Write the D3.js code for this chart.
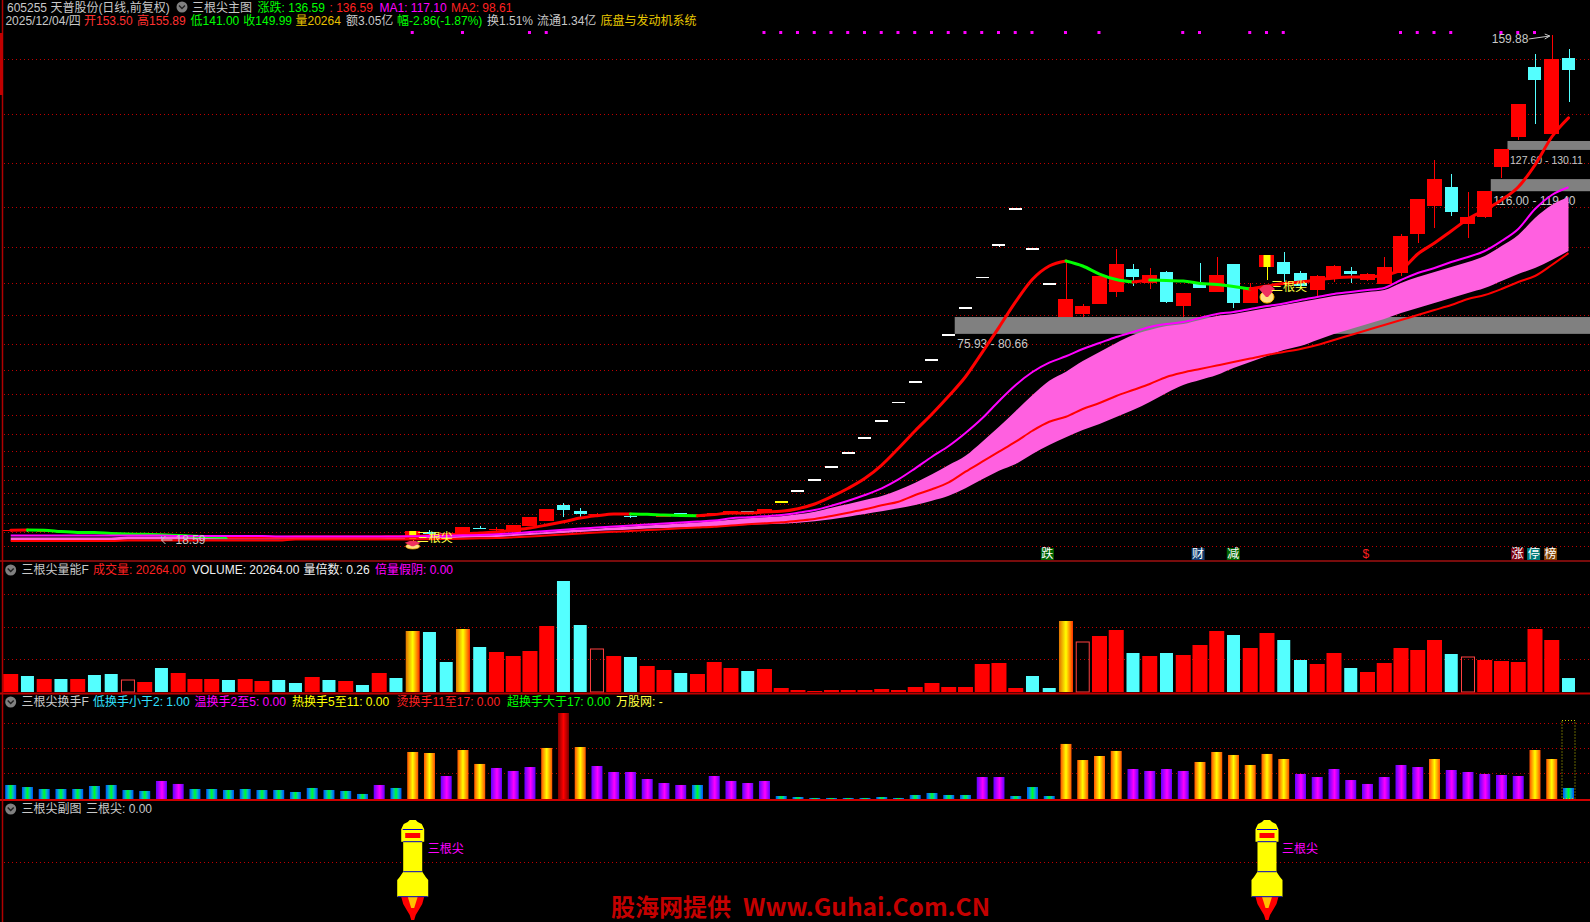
<!DOCTYPE html>
<html><head><meta charset="utf-8"><title>三根尖主图</title>
<script src="https://cdn.jsdelivr.net/npm/d3@7"></script>
<style>html,body{margin:0;background:#000;overflow:hidden}svg{display:block}text{font-family:"Liberation Sans","Noto Sans CJK SC",sans-serif;font-size:12px}</style>
</head><body><svg id="c" width="1590" height="922"></svg>
<script>
// ---------- data (prices in yuan, volume in hands, turnover in %) ----------
const opens=[20.6,20.9,20.4,20.5,20.1,20.3,20.1,19.7,19.6,19.5,19.0,19.0,19.0,19.2,19.0,18.95,19.1,19.05,18.9,19.05,18.9,19.0,18.8,19.05,
18.31,20.19,19.99,19.43,21.53,21.03,20.36,21.96,23.36,27.85,26.17,25.05,25.33,24.77,25.05,24.62,25.61,24.62,25.05,25.47,26.17,25.97,
28.89,31.98,35.07,38.72,42.66,46.87,51.65,56.71,62.6,68.78,75.8,83.39,91.82,101.08,111.2,99.96,90.13,
80.66,81.51,84.31,87.69,94.15,90.22,93.3,83.75,90.22,87.69,95.55,84.6,94.71,96.11,93.02,88.25,91.62,93.58,91.06,89.93,93.03,103.98,111.84,117.18,106.79,108.75,122.8,131.23,150.89,132.07,153.5];
const closes=[20.9,20.6,20.7,20.2,20.4,20.0,19.8,19.8,19.8,19.2,19.3,19.2,19.2,19.0,19.2,19.15,18.95,18.9,19.1,18.9,19.05,18.85,19.05,18.85,
20.55,19.99,19.79,21.67,21.4,21.2,22.24,24.49,26.73,26.45,25.33,25.33,25.61,24.49,25.33,24.91,25.33,24.91,25.61,26.17,25.89,26.65,
28.89,31.98,35.07,38.72,42.66,46.87,51.65,56.71,62.6,68.78,75.8,83.39,91.82,101.08,111.2,99.96,90.13,
85.72,83.75,92.18,95.55,91.9,92.46,84.88,87.41,88.81,92.46,84.6,89.09,98.08,92.74,89.37,92.18,94.99,92.74,92.74,94.71,103.42,113.81,119.43,110.16,108.75,116.06,127.85,140.5,147.24,153.14,149.99];
const highs=[21.1,21.2,20.8,20.7,20.5,20.4,20.2,19.9,19.9,19.71,19.4,19.3,19.3,19.3,19.3,19.2,19.2,19.1,19.2,19.1,19.1,19.1,19.1,19.1,
20.55,20.83,20.1,21.67,21.96,21.67,22.24,24.49,26.73,28.42,27.01,25.69,25.7,24.96,25.4,24.95,25.7,25,25.65,26.2,26.2,26.7,
28.89,31.98,35.07,38.72,42.66,46.87,51.65,56.71,62.6,68.78,75.8,83.39,91.82,101.08,111.2,99.96,90.13,
96.4,84.31,92.18,99.77,95.55,94.43,93.58,87.41,95.83,97.52,95.55,90.22,98.08,98.92,93.58,92.46,95.2,94.71,92.9,97.52,103.98,113.81,124.77,120.83,115.78,116.06,127.85,140.5,154.54,159.88,155.89];
const lows=[20.4,20.4,20.3,20.1,20.0,19.9,19.7,19.6,19.5,18.59,18.9,18.9,18.9,18.9,18.9,18.9,18.9,18.8,18.85,18.8,18.8,18.8,18.75,18.8,
17.18,19.23,19.71,19.43,21.03,20.63,20.36,21.96,23.36,24.57,24.2,24.77,25.3,24.2,25.0,24.6,25.3,24.6,25,25.4,25.8,25.9,
28.89,31.98,35.07,38.72,42.66,46.87,51.65,56.71,62.6,68.78,75.8,83.39,91.82,100.24,111.2,99.96,90.13,
80.66,80.66,84.31,86.28,89.37,88.53,84.6,80.66,88.81,87.69,83.19,84.6,91.06,89.65,89,86.57,90.5,90.22,90.9,89.93,92.18,101.45,105.66,109.03,102.86,108.47,119.71,130.38,134.88,132.07,141];
const shortLine=[20.8,20.85,20.8,20.4,20.15,20.1,19.85,19.7,19.65,19.5,19.3,19.1,18.95,18.8,18.81,18.82,18.83,18.84,18.85,18.86,18.87,18.88,18.9,18.92,
18.95,19.29,19.52,19.71,19.99,20.27,20.83,21.4,22.24,23.16,24.2,24.85,25.33,25.34,25.25,25.05,24.91,24.82,25.19,25.61,25.62,25.89,26.09,26.82,28.14,30.19,32.55,35.36,39.09,43.78,48.72,53.41,58.47,63.89,70.75,77.77,84.96,91.26,94.99,96.4,
94.99,92.74,91.2,90.5,91.06,90.92,90.78,90.07,89.79,89.23,88.53,89.37,90.07,90.5,91.06,91.62,91.9,91.91,92.46,93.87,98.36,101.45,104.82,108.19,110.72,113.53,117.18,123.36,131.23,136.59];
const ma1=[19.29,19.29,19.29,19.29,19.29,19.29,19.29,19.29,19.29,19.29,19.15,19.15,19.15,19.15,19.15,19.15,19.01,19.01,19.01,19.01,19.01,19.01,19.01,19.01,
19.06,19.15,19.23,19.35,19.43,19.63,19.91,20.27,20.55,20.89,21.25,21.53,21.82,22.1,22.38,22.66,22.94,23.22,23.5,24.12,24.4,24.68,25.05,25.69,26.45,27.66,29.06,30.66,32.55,35.07,38.16,41.42,44.43,48.08,52.21,57.07,61.57,65.21,67.83,69.63,
71.68,73.36,75.05,76.45,77.86,78.7,79.26,80.38,81.51,82.07,82.91,83.75,84.46,85.44,86.28,87.12,87.69,88.25,88.81,91.06,93.03,94.43,96.11,97.52,99.2,102.01,105.38,111,114.93,117.1];
const ma2=[17.74,17.74,17.74,17.74,17.74,17.74,17.74,17.89,17.89,17.89,17.89,17.89,17.89,17.89,17.89,17.89,17.89,18.17,18.17,18.17,18.17,18.17,18.17,18.17,18.17,
18.25,18.31,18.39,18.5,18.59,18.78,19.01,19.29,19.57,19.85,20.13,20.36,20.55,20.83,21.03,21.31,21.53,21.76,22.1,22.44,22.72,23,23.45,23.92,24.77,25.69,26.65,27.77,28.78,30.66,32.27,34.23,37.21,40.02,42.83,45.64,48.72,51.25,52.66,
54.82,56.51,58.47,60.16,61.84,63.81,65.07,66.06,67.04,68.02,69.01,69.99,70.83,71.68,72.8,74.21,75.61,77.01,78.42,79.82,81.23,82.63,84.03,85.72,86.84,88.53,90.5,92.18,95.27,98.61];
const bandTop=[18.73,18.73,18.73,18.73,18.73,18.73,18.73,19.01,19.01,19.01,19.01,19.01,19.01,19.01,19.01,19.01,19.01,18.87,18.87,18.87,18.87,18.87,18.87,18.87,18.87,
18.93,19.01,19.15,19.29,19.43,19.71,19.99,20.27,20.69,20.97,21.2,21.53,21.82,22.1,22.38,22.66,22.94,23.36,23.72,24.12,24.4,24.68,25.24,25.97,27.1,28.14,29.26,30.38,32.07,34.12,36.48,39.09,41.7,45.64,49.85,54.26,58.76,62.77,65.3,
68.3,70.83,73.36,75.61,77.01,78.14,78.7,79.82,80.95,81.51,82.35,83.19,84.03,84.88,85.72,86.56,87.12,87.69,88.25,90.22,91.9,93.3,94.71,96.11,97.8,100.61,103.7,108.47,112.12,114.37];
const bandBottom=[17.89,17.89,17.89,17.89,17.89,17.89,17.89,18.17,18.17,18.17,18.17,18.17,18.17,18.17,18.17,18.17,18.17,18.31,18.31,18.31,18.31,18.31,18.31,18.31,18.31,
18.45,18.59,18.67,18.78,18.87,19.15,19.43,19.71,19.99,20.27,20.55,20.75,20.97,21.25,21.39,21.53,21.67,21.82,22.04,22.24,22.44,22.6,22.88,23.28,23.84,24.57,25.33,26.09,26.93,27.85,29.06,30.47,32.55,35.07,37.49,39.37,42.18,44.71,46.87,
48.92,50.61,52.57,54.54,56.79,59.32,61.57,62.97,64.37,66.34,68.02,69.71,71.4,72.52,74.21,75.89,77.3,78.7,80.1,81.79,83.19,84.6,86,87.41,88.81,90.78,92.74,94.43,96.68,99.2];
const volumes=[26100,23200,18850,18850,18850,24650,26100,17400,14500,34800,27550,18850,18850,17400,18850,15950,17400,13050,21750,17400,15950,10150,27550,20300,
88450,87000,43500,91350,65250,58000,52200,59450,95700,160950,97150,62350,52200,50750,37700,31900,27550,26100,43500,34800,30450,33350,5800,2900,1450,2900,2900,2900,4350,2900,7250,13050,7250,7250,40600,42050,5800,23200,5800,
102950,72500,81200,89900,56550,52200,56550,53650,68150,88450,82650,63800,85550,75400,46400,40600,56550,34800,29000,42050,63800,60900,75400,55100,50750,46400,44950,43500,91350,75400,20264];
const volKinds=Array.from("RCRCRCCHRCRRRCRRCCRCRCRCGCCGCRRRRCCHRCRRCRRRCRRRRRRRRRRRRRRRRCCGHRRCRCRRRCRRCCRRCRRRRRCHRRRRRC");
const turnover=[1.92,1.64,1.37,1.37,1.37,1.78,1.92,1.23,1.10,2.47,2.06,1.37,1.37,1.23,1.37,1.23,1.23,0.96,1.51,1.23,1.10,0.69,1.92,1.51,
6.44,6.30,3.15,6.71,4.80,4.25,3.84,4.38,6.99,11.78,7.12,4.52,3.70,3.70,2.74,2.19,1.92,1.92,3.15,2.47,2.19,2.47,0.41,0.27,0.14,0.14,0.14,0.14,0.27,0.14,0.55,0.82,0.55,0.55,3.01,3.01,0.41,1.64,0.41,
7.54,5.34,5.89,6.58,4.11,3.84,4.11,3.84,5.07,6.44,6.03,4.66,6.17,5.48,3.43,3.01,4.11,2.60,2.06,3.01,4.66,4.38,5.48,3.97,3.70,3.43,3.29,3.15,6.71,5.48,1.51];
const turnoverTiers=Array.from("BBBBBBBBBPPBBBBBBBBBBBPBOOPOOPPPOROPPPPPPBPPPPBBBBBBBBBBBBPPBBBOOOOPPPPOOOOOOPPPPPPPPOPPPPPOOB");
const signalDays=[24,75];
const limitYellowDays=[46];
const dotDays=[24,27,31,32,45,46,47,48,49,50,51,52,53,54,55,56,57,58,59,60,61,63,65,70,71,74,75,76,83,84,85,86,89,90,91];
const priceGrid=[153.05,137.6,123.84,111.48,100.24,90.13,81.14,72.99,65.69,58.95,53.05,47.72,42.94,38.73,34.8,31.14,28.05,25.24,22.71,20.19,16.26];
const volGrid=[141665,93815,47415];
const turnGrid=[10.37,6.95,3.52];
const zones=[{from:56,lo:75.93,hi:80.66,label:"75.93 - 80.66"},{from:88,lo:116.00,hi:119.40,label:"116.00 - 119.40"},{from:89,lo:127.60,hi:130.11,label:"127.60 - 130.11"}];
const badges=[{day:61.5,t:"跌",bg:"#006400"},{day:70.5,t:"财",bg:"#103c70"},{day:72.6,t:"减",bg:"#006400"},{day:89.57,t:"涨",bg:"#7a0010"},{day:90.53,t:"停",bg:"#007a7a"},{day:91.54,t:"榜",bg:"#804000"}];
const gems=[{day:24,price:16.62,h:8},{day:75,price:87.12,h:18}];
const signalText=[{day:24,price:18.59},{day:75,price:89.09}];

// ---------- scales ----------
const svg=d3.select("#c");
const idx=d3.range(opens.length);
const x=d3.scaleLinear().domain([0,93]).range([10.7,1568.5]);
const y=d3.scaleLinear().domain([18.59,159.88]).range([538,35]);
const yV=d3.scaleLinear().domain([0,160950]).range([692,581]);
const yT=d3.scaleLinear().domain([0,11.78]).range([799,713]);
const ySub=d3.scaleLinear().domain([0,1]).range([920,820]);

svg.append("rect").attr("width",1590).attr("height",922).attr("fill","#000");
const defs=svg.append("defs");
function grad(id,stops){const g=defs.append("linearGradient").attr("id",id);stops.forEach(([o,c])=>g.append("stop").attr("offset",o).attr("stop-color",c));}
grad("gB",[[0,"#0050ff"],[.3,"#00c0c0"],[.5,"#00ff20"],[.7,"#00c0c0"],[1,"#0050ff"]]);
grad("gP",[[0,"#6000ff"],[.55,"#ff00ff"],[1,"#6000ff"]]);
grad("gO",[[0,"#ff5000"],[.5,"#ffff00"],[1,"#ff5000"]]);
grad("gR",[[0,"#800000"],[.5,"#ff0000"],[1,"#800000"]]);
grad("gV",[[0,"#e07000"],[.5,"#ffff00"],[1,"#ff3000"]]);

// ---------- grid ----------
const gridLine=(vals,sc,x1=4)=>svg.append("g").selectAll("line").data(vals).join("line")
 .attr("x1",x1).attr("x2",1590).attr("y1",d=>Math.round(sc(d))+.5).attr("y2",d=>Math.round(sc(d))+.5)
 .attr("stroke","#c00000").attr("stroke-dasharray","1,3").attr("shape-rendering","crispEdges");
gridLine(priceGrid,y);gridLine(volGrid,yV);gridLine(turnGrid,yT);gridLine([0.58],ySub);

// ---------- zones ----------
const gz=svg.append("g");
gz.selectAll("rect").data(zones).join("rect").attr("x",d=>x(d.from)+6).attr("width",d=>1590-x(d.from)-6)
 .attr("y",d=>y(d.hi)).attr("height",d=>y(d.lo)-y(d.hi)).attr("fill","#808080");
gz.selectAll("text").data(zones).join("text").attr("x",d=>x(d.from)+8.5).attr("y",d=>y(d.lo)+10).attr("dy",".35em")
 .attr("fill","#c8c8c8").style("font-size",d=>d.from===89?"10.5px":null).text(d=>d.label);

// ---------- pink band ----------
svg.append("path").datum(idx).attr("fill","#ff60e0")
 .attr("d",d3.area().curve(d3.curveMonotoneX).x(i=>x(i)).y0(i=>y(bandBottom[i])).y1(i=>y(bandTop[i])));

// ---------- candles ----------
const gc=svg.append("g").selectAll("g").data(idx).join("g");
const cColor=i=>closes[i]>opens[i]?"#ff0000":closes[i]<opens[i]?"#54ffff":(limitYellowDays.includes(i)?"#ffff00":"#ffffff");
gc.append("line").attr("x1",i=>Math.round(x(i))+.5).attr("x2",i=>Math.round(x(i))+.5)
 .attr("y1",i=>y(highs[i])).attr("y2",i=>y(lows[i]))
 .attr("stroke",i=>signalDays.includes(i)?"#ffff00":cColor(i)).attr("shape-rendering","crispEdges");
gc.append("rect").attr("x",i=>x(i)-(cColor(i)==="#ff0000"?7.5:6.5)).attr("width",i=>cColor(i)==="#ff0000"?15:13)
 .attr("y",i=>y(Math.max(opens[i],closes[i])))
 .attr("height",i=>Math.max(1.2,Math.abs(y(opens[i])-y(closes[i]))))
 .attr("fill",cColor).attr("shape-rendering","crispEdges");
svg.append("g").selectAll("rect").data(signalDays).join("rect").attr("x",i=>x(i)-3.5).attr("width",7)
 .attr("y",i=>y(closes[i])).attr("height",i=>y(opens[i])-y(closes[i])).attr("fill","#ffff00");

// ---------- short line, coloured by direction (runs of rising / falling days) ----------
const lineOf=a=>d3.line().curve(d3.curveMonotoneX).x(i=>x(i)).y(i=>y(a[i]));
const runs=[];
idx.slice(1).forEach(i=>{const up=shortLine[i]>=shortLine[i-1];const last=runs[runs.length-1];
 if(last&&last.up===up)last.days.push(i);else runs.push({up,days:[i-1,i]});});
svg.append("g").selectAll("path").data(runs).join("path").attr("fill","none")
 .attr("stroke",r=>r.up?"#ff0000":"#00ff00").attr("stroke-width",3).attr("stroke-linecap","round").attr("d",r=>lineOf(shortLine)(r.days));

// ---------- moving averages ----------
svg.append("path").datum(idx).attr("fill","none").attr("stroke","#ff0000").attr("stroke-width",2).attr("d",lineOf(ma2));
svg.append("path").datum(idx).attr("fill","none").attr("stroke","#ff00ff").attr("stroke-width",2).attr("d",lineOf(ma1));

// ---------- top dots ----------
svg.append("g").selectAll("rect").data(dotDays).join("rect").attr("x",i=>x(i)-2).attr("y",31).attr("width",3).attr("height",3).attr("fill","#ff00ff");

// ---------- signal icons / labels ----------
const gemG=svg.append("g").selectAll("g").data(gems).join("g").attr("transform",d=>`translate(${x(d.day)},${y(d.price)}) scale(1,${d.h/18})`);
gemG.append("ellipse").attr("cy",3).attr("rx",7).attr("ry",6).attr("fill","#ffe080").attr("stroke","#ffb000");
gemG.append("path").attr("d","M-8,-5L-3,-9L3,-9L8,-5L1,3L-1,3Z").attr("fill","#f03060");
svg.append("g").selectAll("text").data(signalText).join("text").attr("x",d=>x(d.day)+4).attr("y",d=>y(d.price)).attr("dy",".35em").attr("fill","#ffff40").text("三根尖");

// ---------- extreme labels ----------
const tag=svg.append("g").attr("fill","#c8c8c8").attr("stroke","none");
tag.append("text").attr("x",x(92)-60).attr("y",y(159.88)+4).attr("dy",".35em").text("159.88");
svg.append("path").attr("d",`M${x(92)-23},${y(159.88)+4}L${x(92)-2},${y(159.88)+1}M${x(92)-7},${y(159.88)-1}L${x(92)-2},${y(159.88)+1}L${x(92)-7},${y(159.88)+4}`).attr("stroke","#c8c8c8").attr("fill","none");
tag.append("text").attr("x",x(9)+14).attr("y",y(18.59)+2).attr("dy",".35em").text("18.59");
svg.append("path").attr("d",`M${x(9)+11},${y(18.59)+2}L${x(9)},${y(18.59)+2}M${x(9)+4},${y(18.59)-2}L${x(9)},${y(18.59)+2}L${x(9)+4},${y(18.59)+6}`).attr("stroke","#c8c8c8").attr("fill","none");

// ---------- badges ----------
const gb=svg.append("g").selectAll("g").data(badges).join("g");
gb.append("rect").attr("x",d=>x(d.day)).attr("y",548).attr("width",13).attr("height",12).attr("fill",d=>d.bg);
gb.append("text").attr("x",d=>x(d.day)+.5).attr("y",554).attr("dy",".35em").attr("fill","#fff").text(d=>d.t);
svg.append("text").attr("x",x(81)-5).attr("y",554).attr("dy",".35em").attr("fill","#ff2020").text("$");

// ---------- volume ----------
const vFill={R:"#ff0000",C:"#54ffff",G:"url(#gV)",H:"none"};
svg.append("g").selectAll("rect").data(idx).join("rect")
 .attr("x",i=>x(i)-(volKinds[i]==="R"?7.5:volKinds[i]==="G"?7:6.5)).attr("width",i=>volKinds[i]==="R"?15:volKinds[i]==="G"?14:13)
 .attr("y",i=>yV(volumes[i])).attr("height",i=>yV(0)-yV(volumes[i]))
 .attr("fill",i=>vFill[volKinds[i]]).attr("stroke",i=>volKinds[i]==="H"?"#ff4040":"none").attr("stroke-width",1);

// ---------- turnover ----------
svg.append("g").selectAll("rect").data(idx).join("rect")
 .attr("x",i=>x(i)-5.5).attr("width",11)
 .attr("y",i=>yT(turnover[i])).attr("height",i=>yT(0)-yT(turnover[i]))
 .attr("fill",i=>"url(#g"+turnoverTiers[i]+")");
svg.append("rect").attr("x",x(93)-6.5).attr("y",720.5).attr("width",13).attr("height",78).attr("fill","none")
 .attr("stroke","#c8c800").attr("stroke-dasharray","1,2");

// ---------- rockets ----------
const rk=svg.append("g").selectAll("g").data(signalDays).join("g").attr("transform",i=>`translate(${x(i)},${ySub(1)})`);
rk.append("path").attr("fill","#ff0000").attr("d","M-11.5,76.7H11.5L9.5,84L6,90L3,95L1.5,100H-1.5L-3,95L-6,90L-9.5,84Z");
rk.append("path").attr("fill","#ffc000").attr("d","M-5,76.7H5L1.5,88H-1.5Z");
rk.append("path").attr("fill","#ffff00").attr("d","M-3,0H3L5,2L9,4L10,6L11.5,9.3V21.7H9.5V51.7L11,54L13,57L15.5,60V76.7H-15.5V60L-13,57L-11,54L-9.5,51.7V21.7H-11.5V9.3L-10,6L-9,4L-5,2Z");
rk.append("rect").attr("x",-7.5).attr("y",13).attr("width",15).attr("height",5).attr("fill","#ff0000");
rk.append("path").attr("stroke","#0000c8").attr("fill","none").attr("d","M-10,9.5H10M-9.5,21.7H9.5M-9.5,51.7H9.5M-15,76.7H15");
rk.append("text").attr("x",15).attr("y",29).attr("dy",".35em").attr("fill","#ff00ff").text("三根尖");

// ---------- frame ----------
const hr=(yy,c,w)=>svg.append("line").attr("x1",0).attr("x2",1590).attr("y1",yy).attr("y2",yy).attr("stroke",c).attr("stroke-width",w);
hr(561,"#a01010",1.5);hr(693.5,"#c00000",2);hr(800,"#d00000",2);
svg.append("line").attr("x1",2.5).attr("x2",2.5).attr("y1",0).attr("y2",922).attr("stroke","#b00000").attr("stroke-width",1.5);
svg.append("rect").attr("x",0).attr("y",33).attr("width",3).attr("height",62).attr("fill","#c00000");

// ---------- header text ----------
const hdr=[
 [7,8,"605255 天普股份(日线,前复权)","#c8c8c8"],[192,8,"三根尖主图","#c8c8c8"],[257.6,8,"涨跌: 136.59","#00ff00"],[329.5,8,": 136.59","#ff2020"],[379.5,8,"MA1: 117.10","#ff00ff"],[451,8,"MA2: 98.61","#ff2020"],
 [5.4,21,"2025/12/04/四","#c8c8c8"],[84,21,"开153.50","#ff3030"],[137,21,"高155.89","#ff3030"],[190.6,21,"低141.00","#00ff00"],[243.3,21,"收149.99","#00ff00"],[295.5,21,"量20264","#e8c000"],[346,21,"额3.05亿","#c8c8c8"],[397,21,"幅-2.86(-1.87%)","#00ff00"],[487,21,"换1.51%","#c8c8c8"],[537,21,"流通1.34亿","#c8c8c8"],[600.4,21,"底盘与发动机系统","#e8c800"],
 [21.4,570,"三根尖量能F","#c8c8c8"],[93,570,"成交量: 20264.00","#ff2020"],[192,570,"VOLUME: 20264.00","#f0f0f0"],[303.6,570,"量倍数: 0.26","#f0f0f0"],[375,570,"倍量假阴: 0.00","#ff00ff"],
 [21.4,702,"三根尖换手F","#c8c8c8"],[93,702,"低换手小于2: 1.00","#30e0ff"],[194.6,702,"温换手2至5: 0.00","#ff00ff"],[292,702,"热换手5至11: 0.00","#ffff00"],[396.4,702,"烫换手11至17: 0.00","#ff2020"],[507,702,"超换手大于17: 0.00","#00ff00"],[616,702,"万股网: -","#ffff40"],
 [21.4,809,"三根尖副图","#c8c8c8"],[86,809,"三根尖: 0.00","#c8c8c8"]];
svg.append("g").selectAll("text").data(hdr).join("text").attr("x",d=>d[0]).attr("y",d=>d[1]).attr("dy",".35em").attr("fill",d=>d[3]).text(d=>d[2]);
const icons=[[182,7],[10.7,570],[10.7,702],[10.7,809]];
const ic=svg.append("g").selectAll("g").data(icons).join("g").attr("transform",d=>`translate(${d[0]},${d[1]})`);
ic.append("circle").attr("r",5.5).attr("fill","#808080");
ic.append("path").attr("d","M-3,-1.5L0,1.5L3,-1.5").attr("stroke","#202020").attr("stroke-width",1.4).attr("fill","none");

// ---------- watermark ----------
svg.append("text").attr("x",611).attr("y",916).attr("fill","#c40000").style("font-family","'Noto Sans CJK SC'").style("font-size","24px").style("font-weight","700").text("股海网提供");
svg.append("text").attr("x",743).attr("y",916).attr("fill","#c40000").style("font-family","'Noto Sans CJK SC'").style("font-size","24px").style("font-weight","700").attr("textLength",247).attr("lengthAdjust","spacingAndGlyphs").text("Www.Guhai.Com.CN");
</script></body></html>
